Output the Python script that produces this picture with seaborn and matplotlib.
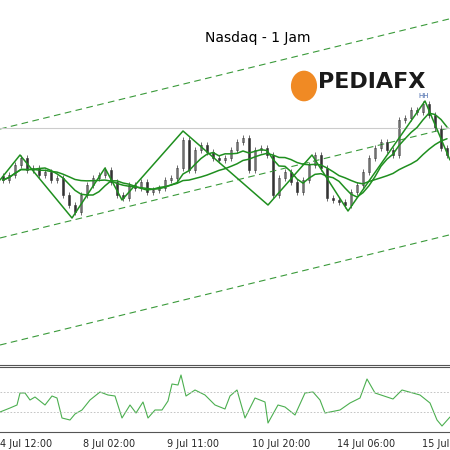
import matplotlib
matplotlib.use("Agg")
import matplotlib.pyplot as plt
import seaborn as sns
import numpy as np
import pandas as pd
from matplotlib.patches import Ellipse

sns.set_style("white")
plt.rcParams['font.family'] = ['DejaVu Sans']

# closes read as pixel heights (price = 400 - y)
close_y = [180,175,165,158,170,168,175,172,180,178,195,205,212,195,185,178,175,170,182,195,
           198,185,188,182,192,190,188,180,178,168,140,170,150,145,152,158,160,158,150,142,
           138,170,150,148,155,195,178,172,182,192,180,165,155,168,198,200,202,205,192,185,
           172,158,148,142,150,155,120,118,110,112,104,115,128,148,155]
closes = [400 - v for v in close_y]
opens = [closes[0] + 4] + closes[:-1]

zig_x = [0,20,72,105,122,183,268,312,348,425,450]
zig_y = [180,155,218,168,200,131,205,155,211,101,160]

ind_x = [0,10,17,20,25,30,35,45,52,57,62,70,75,82,90,100,108,115,122,130,136,143,148,155,162,168,172,178,181,186,
         195,205,215,225,230,237,245,255,265,268,278,285,295,305,313,320,325,340,350,360,367,375,393,402,420,430,437,442,450]
ind_y = [412,408,405,393,393,400,397,405,396,398,418,420,414,410,400,392,395,396,418,405,413,402,418,410,410,401,384,385,375,396,
         390,395,405,409,396,390,418,398,402,423,405,407,415,393,392,400,413,410,403,398,379,393,399,390,395,403,420,426,417]

tick_px = [0,83,167,252,337,422]
tick_labels = ["4 Jul 12:00","8 Jul 02:00","9 Jul 11:00","10 Jul 20:00","14 Jul 06:00","15 Jul 14:00"]

fig = plt.figure(figsize=(4.5,4.5), dpi=100)
ax = fig.add_axes([0, 1-365/450, 1, 365/450])
ax2 = fig.add_axes([0, 1-432/450, 1, 65/450])

n = len(closes)
idx = np.arange(n)
px = lambda x: (np.asarray(x)-3)/6.0
ax.set_xlim(-0.5, n-0.5)
ax.set_ylim(400-365, 400)

xs = np.array([-0.5, n-0.5])
for y0 in [129, 238, 345]:
    ys = 400 - (y0 - 0.245*(xs*6+3))
    ax.plot(xs, ys, color="#3a9a3a", lw=0.8, dashes=(6,4))
ax.axhline(400-128, color="#cccccc", lw=0.8)

for i,(o,c) in enumerate(zip(opens, closes)):
    hi, lo = max(o,c)+3, min(o,c)-3
    ax.vlines(i, lo, hi, color="#333333", lw=0.5)
    col = "white" if c >= o else "#333333"
    ax.bar(i, max(abs(c-o),0.8), bottom=min(o,c), width=0.35, color=col, edgecolor="#333333", lw=0.4)

df = pd.DataFrame({"i": idx, "c": closes})
df["ma1"] = df["c"].rolling(6, min_periods=1).mean()
df["ma2"] = df["c"].rolling(16, min_periods=1).mean()
sns.lineplot(data=df, x="i", y="ma1", ax=ax, color="#1f8f1f", lw=1.1)
sns.lineplot(data=df, x="i", y="ma2", ax=ax, color="#1f8f1f", lw=1.1)
ax.plot(px(zig_x), [400-v for v in zig_y], color="#1f8f1f", lw=1.1)

ax.set_xticks([]); ax.set_yticks([]); ax.set_xlabel(""); ax.set_ylabel("")
for s in ["top","left","right"]:
    ax.spines[s].set_visible(False)
ax.spines["bottom"].set_color("#555555")

fig.text(258/450, 1-38/450, "Nasdaq - 1 Jam", ha="center", va="center", fontsize=10, color="black")
fig.text(318/450, 1-82/450, "PEDIAFX", ha="left", va="center", fontsize=16, fontweight="bold", color="#1a1a1a")
fig.patches.append(Ellipse((304/450, 1-86/450), 0.055, 0.065, transform=fig.transFigure, color="#f08a24"))
fig.text(424/450, 1-98/450, "HH", ha="center", fontsize=5, color="#4466aa")

sns.lineplot(x=px(ind_x), y=[440-v for v in ind_y], ax=ax2, color="#4caf50", lw=0.8)
ax2.set_xlim(-0.5, n-0.5)
ax2.set_ylim(440-432, 440-367)
for yy in [392, 412]:
    ax2.axhline(440-yy, color="#bbbbbb", lw=0.6, ls=(0,(2,2)))
ax2.set_xticks(px(tick_px))
ax2.set_xticklabels(tick_labels, fontsize=7, ha="left")
ax2.tick_params(axis="x", length=3, pad=2)
ax2.set_yticks([]); ax2.set_xlabel(""); ax2.set_ylabel("")
for s in ["left","right"]:
    ax2.spines[s].set_visible(False)
ax2.spines["top"].set_color("#555555")
ax2.spines["bottom"].set_color("#555555")

fig.savefig("out.png", dpi=100)
